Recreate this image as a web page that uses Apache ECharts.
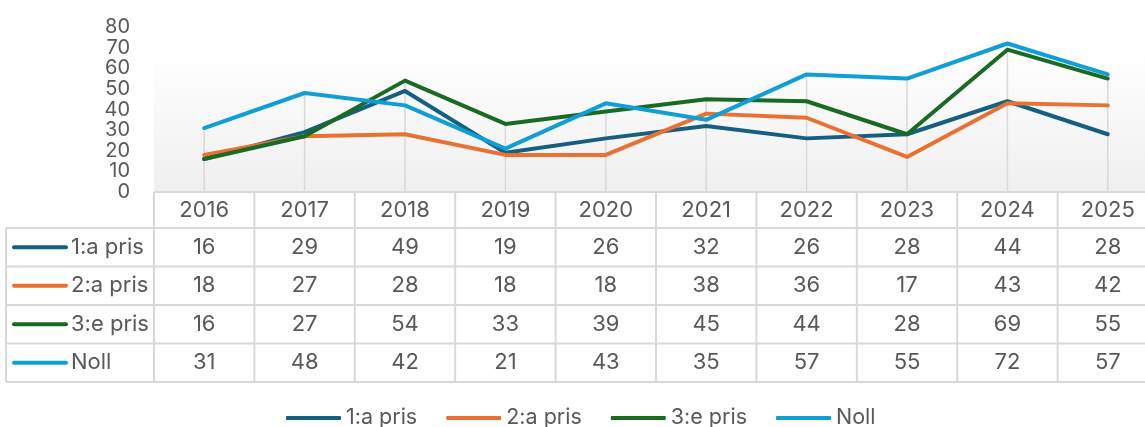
<!DOCTYPE html>
<html>
<head>
<meta charset="utf-8">
<script src="https://cdn.jsdelivr.net/npm/echarts@6/dist/echarts.min.js"></script>
<style>
html,body{margin:0;padding:0;background:#fff;overflow:hidden;width:1145px;height:427px;}
#chart{width:1160px;height:427px;}
</style>
</head>
<body>
<div id="chart"></div>
<script>
const categories = ['2016','2017','2018','2019','2020','2021','2022','2023','2024','2025'];
const seriesNames = ['1:a pris','2:a pris','3:e pris','Noll'];
const pris1 = [16,29,49,19,26,32,26,28,44,28];
const pris2 = [18,27,28,18,18,38,36,17,43,42];
const pris3 = [16,27,54,33,39,45,44,28,69,55];
const noll  = [31,48,42,21,43,35,57,55,72,57];
const yTicks = [0,10,20,30,40,50,60,70,80];

const allSeries = [pris1, pris2, pris3, noll];
const colors = ['#156082','#E97132','#196B24','#0F9ED5'];
const FONT = 'Inter';
const TXT = '#595959';
const BORDER = '#d9d9d9';

const chart = echarts.init(document.getElementById('chart'), null, {renderer:'canvas'});

const dropData = categories.map((c, i) => [i].concat(allSeries.map(s => s[i])));

const option = {
  animation: false,
  color: colors,
  textStyle: {fontFamily: FONT},
  grid: {
    left: 154, width: 1004, top: 27, height: 165,
    outerBoundsMode: 'none',
    show: true, borderWidth: 0,
    backgroundColor: new echarts.graphic.LinearGradient(0,0,0,1,[
      {offset:0, color:'#ffffff'},{offset:0.15, color:'#ffffff'},{offset:1, color:'#efefef'}])
  },
  xAxis: {
    type: 'category', data: categories, boundaryGap: true,
    axisLine: {show:false}, axisTick: {show:false}, axisLabel: {show:false}, splitLine:{show:false}
  },
  yAxis: {
    type: 'value', min: yTicks[0], max: yTicks[yTicks.length-1], interval: 10,
    axisLine:{show:false}, axisTick:{show:false}, splitLine:{show:false},
    axisLabel: {color: TXT, fontSize: 20, lineHeight: 16, fontFamily: FONT, margin: 24, hideOverlap: false}
  },
  legend: {
    left: 281, top: 402,
    itemWidth: 55, itemHeight: 4, itemGap: 29,
    icon: 'roundRect',
    textStyle: {color: TXT, fontSize: 21.5, fontFamily: FONT},
    data: seriesNames
  },
  series: [
    {
      type: 'custom', name: 'drop', silent: true, z: 1,
      data: dropData,
      encode: {x: 0, y: [1,2,3,4]},
      renderItem: function(params, api) {
        const i = api.value(0);
        let m = -Infinity;
        for (let k = 1; k <= 4; k++) m = Math.max(m, api.value(k));
        const p1 = api.coord([i, m]);
        const p2 = api.coord([i, 0]);
        return {type:'line', shape:{x1:p1[0], y1:p1[1], x2:p2[0], y2:p2[1]},
                style:{stroke: BORDER, lineWidth: 1.5}};
      }
    }
  ].concat(allSeries.map((d, k) => ({
    type: 'line', name: seriesNames[k], data: d, z: 2 + k,
    symbol: 'none', lineStyle: {width: 4, color: colors[k], cap:'round', join:'round'},
    itemStyle: {color: colors[k]}
  })))
};
chart.setOption(option);

// Data table
function buildTable() {
  const centers = categories.map((c, i) => chart.convertToPixel({xAxisIndex:0}, i));
  const band = centers[1] - centers[0];
  const x0 = centers[0] - band/2;
  const yTop = chart.convertToPixel({yAxisIndex:0}, 0);
  const headerH = 36, rowH = 38.5;
  const leftX = 6, rightX = 1160;
  const g = [];
  const line = (x1,y1,x2,y2) => g.push({type:'line', shape:{x1,y1,x2,y2}, style:{stroke:BORDER, lineWidth:2}, z:10});
  const rowsBottom = yTop + headerH + rowH*seriesNames.length;
  line(x0, yTop, rightX, yTop);
  for (let r = 0; r <= seriesNames.length; r++) {
    const y = yTop + headerH + r*rowH;
    line(leftX, y, rightX, y);
  }
  line(leftX, yTop + headerH, leftX, rowsBottom);
  for (let i = 0; i <= categories.length; i++) {
    const x = x0 + i*band;
    if (x > rightX) continue;
    line(x, yTop, x, rowsBottom);
  }
  const font = '22px ' + FONT;
  categories.forEach((c, i) => {
    g.push({type:'text', x: centers[i], y: yTop + headerH/2, z:11,
      style:{text:c, fill:TXT, font:font, textAlign:'center', textVerticalAlign:'middle'}});
  });
  seriesNames.forEach((name, r) => {
    const yc = yTop + headerH + r*rowH + rowH/2;
    g.push({type:'line', shape:{x1:14, y1:yc, x2:66, y2:yc},
      style:{stroke:colors[r], lineWidth:4, lineCap:'round'}, z:11});
    g.push({type:'text', x: 71, y: yc, z:11,
      style:{text:name, fill:TXT, font:font, textAlign:'left', textVerticalAlign:'middle'}});
    allSeries[r].forEach((v, i) => {
      g.push({type:'text', x: centers[i], y: yc, z:11,
        style:{text:String(v), fill:TXT, font:font, textAlign:'center', textVerticalAlign:'middle'}});
    });
  });
  chart.setOption({graphic: {elements: g}});
}
buildTable();
</script>
</body>
</html>
